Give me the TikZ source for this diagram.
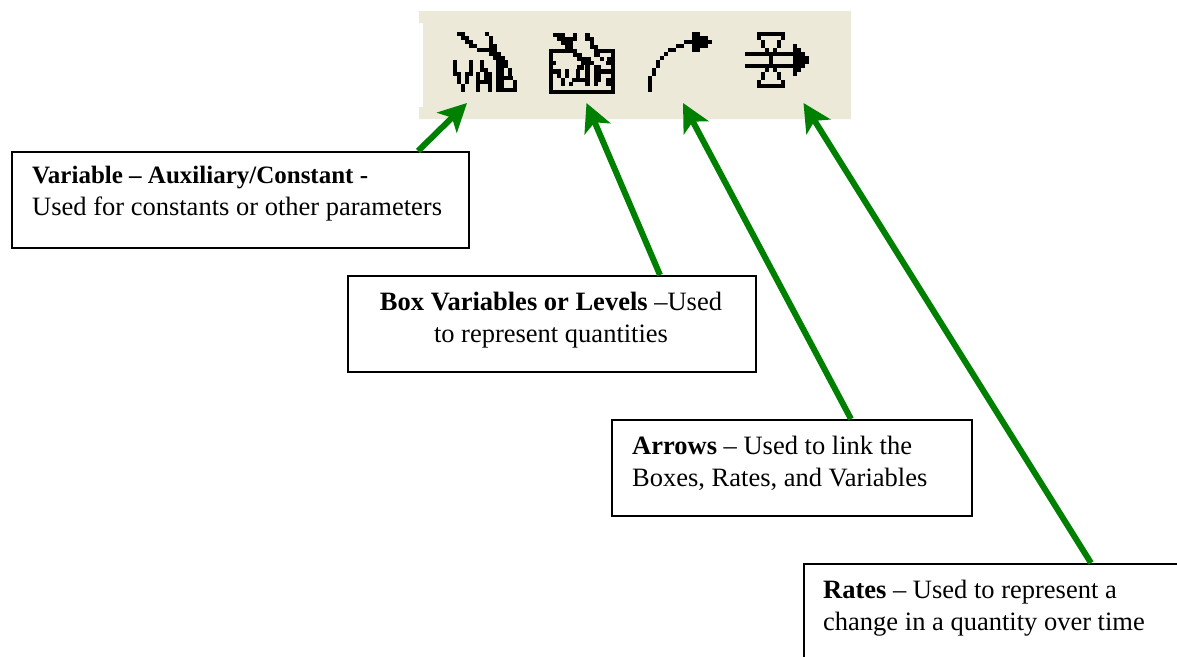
\documentclass[tikz,border=0pt]{standalone}
\usepackage{fontspec}
\setmainfont{Liberation Serif}
\usetikzlibrary{arrows.meta}
\definecolor{barbg}{HTML}{ECE9D8}
\definecolor{arrowgreen}{HTML}{008000}
\tikzset{
  box/.style={draw=black,line width=1.8pt,fill=white,anchor=north west,inner sep=0pt},
  txt/.style={anchor=north west,inner sep=0pt,font=\fontsize{26.5}{31.7}\selectfont,align=left},
  arr/.style={draw=arrowgreen,line width=6pt,-{Stealth[length=28pt,width=28pt,inset=7pt]}},
}
\newcommand{\pixicon}[4]{%
  \foreach \r/\a/\b in {#4}{%
    \fill[black] ({#1+\a*#3-0.05},{#2+\r*#3-0.05}) rectangle ({#1+(\b+1)*#3+0.05},{#2+(\r+1)*#3+0.05});
  }%
}
\begin{document}
\begin{tikzpicture}[x=1pt,y=-1pt]
\clip (0,0) rectangle (1177,656);
\useasboundingbox (0,0) rectangle (1177,656);
\fill[white] (0,0) rectangle (1177,656);
% toolbar
\fill[barbg] (419,11) -- (851,11) -- (851,119) -- (419,119) -- (419,107) -- (423,107) -- (423,23) -- (419,23) -- cycle;
% icon 1
\pixicon{445}{32.3}{4}{0/3/4,0/10/10,1/4/5,1/11/11,2/5/6,2/11/11,3/6/7,3/11/12,4/8/12,5/11/13,6/12/14,
7/2/2,7/6/6,7/8.75/8.75,7/12.75/14.75,
8/2/2,8/6/6,8/8.75/8.75,8/12.75/14.75,
9/2/2,9/6/6,9/8.75/9.75,9/12.75/13.75,9/15.75/15.75,
10/2/3,10/5/6,10/7.75/7.75,10/9.75/10.75,10/12.75/13.75,10/15.75/15.75,
11/3/3,11/5/5,11/7.75/7.75,11/9.75/10.75,11/12.75/16,
12/3/3,12/5/5,12/7.75/10.75,12/12.75/13.75,12/17/17,
13/4/4,13/7.75/7.75,13/10.75/10.75,13/12.75/13.75,13/17/17,
14/4/4,14/7.75/7.75,14/10.75/10.75,14/12.75/17}
% icon 2
\pixicon{545}{33}{4.05}{0/2/4,0/7/7,0/10/10,1/3/5,1/6/7,1/10/11,2/4/6,2/11/11,3/5/6,3/11/12,4/1/7,4/12/16.3,
5/1/1,5/7/8,5/12/12.5,5/16.3/16.3,
6/1/1,6/8/10.3,6/13.5/13.5,6/15.3/16.3,
7/1/1.8,7/8.8/11.2,7/15/16.3,
8/1/1,8/8/8.7,8/10/10,8/12/12.8,8/16.3/16.3,
9/1/3,9/5/5,9/7.6/7.6,9/10/10,9/12/15.3,9/16.3/16.3,
10/1/1,10/3/3,10/5/5,10/7.6/7.6,10/10/10,10/12/12.8,10/16.3/16.3,
11/1/1,11/4/4,11/6.75/10,11/12/12.8,11/15/16.3,
12/1/1,12/4/4,12/6/6,12/10/10,12/12/12,12/15/16.3,
13/1/1,13/16.3/16.3,14/1/16.3}
% icon 3
\pixicon{640}{31.7}{4}{0/13/14,1/13/16,2/11/17,3/9/10,3/13/16,4/7/8,4/13/14,5/6/6,6/5/5,7/4/4,8/4/4,9/3/3,10/3/3,11/2/2,12/2/2,13/2/2,14/2/2}
% icon 4
\pixicon{741}{31.7}{4}{0/4/10,1/4/4,1/10/10,2/5/5,2/9/9,3/5/5,3/9/9,3/13/13,4/6/6,4/8/8,4/13/14,5/1/15,6/7/7,6/13/16,7/7/7,7/13/16,8/1/15,9/6/6,9/8/8,9/13/14,10/5/5,10/9/9,10/13/13,11/5/5,11/9/9,12/4/4,12/10/10,13/4/10}
% boxes
\node[box,minimum width=457pt,minimum height=96pt] (b1) at (11,151) {};
\node[box,minimum width=408pt,minimum height=96pt] (b2) at (347,275) {};
\node[box,minimum width=360pt,minimum height=96pt] (b3) at (611,419) {};
\node[box,minimum width=420pt,minimum height=130pt] (b4) at (803,563) {};
% texts
\node[txt] (t1) at (32,166) {{\fontsize{25}{31.7}\selectfont\textbf{Variable – Auxiliary/Constant -}}\\Used for constants or other parameters};
\node[txt,align=center,anchor=north] (t2) at (551,292) {\textbf{Box Variables or Levels} –Used\\to represent quantities};
\node[txt] (t3) at (632,436) {\textbf{Arrows} – Used to link the\\Boxes, Rates, and Variables};
\node[txt] (t4) at (823,580) {\textbf{Rates} – Used to represent a\\change in a quantity over time};
% connector ends
\path (b1.north west) ++(407,0) coordinate (s1);
\path (b2.north west) ++(313,0) coordinate (s2);
\path (b3.north west) ++(240,0) coordinate (s3);
\path (b4.north west) ++(288,0) coordinate (s4);
\coordinate (i1) at (467,103);
\coordinate (i2) at (586.5,103);
\coordinate (i3) at (683,103);
\coordinate (i4) at (803.5,103);
\draw[arr] (s1) -- (i1);
\draw[arr] (s2) -- (i2);
\draw[arr] (s3) -- (i3);
\draw[arr] (s4) -- (i4);
\end{tikzpicture}
\end{document}
